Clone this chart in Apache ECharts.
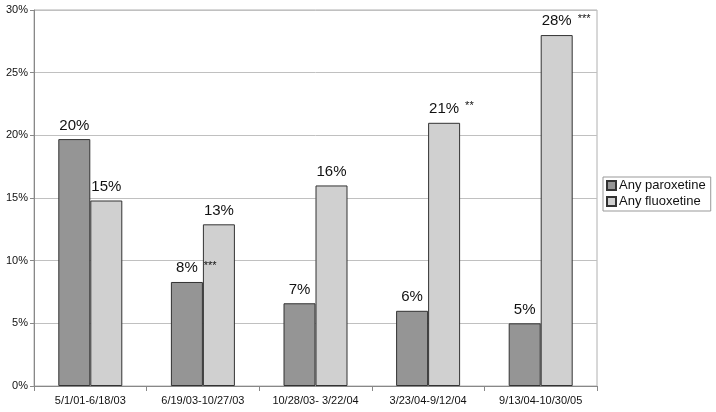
<!DOCTYPE html>
<html>
<head>
<meta charset="utf-8">
<script src="https://cdn.jsdelivr.net/npm/echarts@6/dist/echarts.min.js"></script>
<style>
  html, body { margin: 0; padding: 0; background: #fff; }
  #chart { width: 716px; height: 412px; }
</style>
</head>
<body>
<div id="chart"></div>
<script>
const periods = ["5/1/01-6/18/03", "6/19/03-10/27/03", "10/28/03- 3/22/04", "3/23/04-9/12/04", "9/13/04-10/30/05"];
const paroxetine = [19.7, 8.3, 6.6, 6.0, 5.0];
const fluoxetine = [14.8, 12.9, 16.0, 21.0, 28.0];
const paroxetineLabels = ["20%", "8%", "7%", "6%", "5%"];
const fluoxetineLabels = ["15%", "13%", "16%", "21%", "28%"];
const paroxetineStars = ["", "***", "", "", ""];
const fluoxetineStars = ["", "", "", "**", "***"];
const yTicks = [0, 5, 10, 15, 20, 25, 30];

const FONT = "Liberation Sans, Arial, sans-serif";

function makeLabel(labels, stars) {
  return function (p) {
    const s = stars[p.dataIndex];
    if (!s) return "{v|" + labels[p.dataIndex] + "}";
    // hidden copy on the left keeps the percentage centred over the bar
    return "{h|" + s + "}{v|" + labels[p.dataIndex] + "}{s|" + s + "}";
  };
}

const labelRich = {
  v: { fontSize: 15, color: "#111", fontFamily: FONT },
  s: { fontSize: 11, color: "#111", fontFamily: FONT, verticalAlign: "top", padding: [0, 0, 5, 6] },
  h: { fontSize: 11, color: "transparent", fontFamily: FONT, padding: [0, 6, 5, 0] }
};

const chart = echarts.init(document.getElementById("chart"));
chart.setOption({
  animation: false,
  textStyle: { fontFamily: FONT },
  grid: { left: 34, right: 119, top: 10, bottom: 26, show: true, borderColor: "#b0b0b0", borderWidth: 1 },
  legend: {
    orient: "vertical",
    left: 603,
    top: 177,
    icon: "rect",
    itemWidth: 9,
    itemHeight: 9,
    itemGap: 3,
    padding: [2, 5, 3, 3],
    borderColor: "#999",
    borderWidth: 1,
    textStyle: { fontSize: 13, color: "#111", fontFamily: FONT, padding: [0, 0, 0, -2] },
    data: ["Any paroxetine", "Any fluoxetine"]
  },
  xAxis: {
    type: "category",
    data: periods,
    axisLine: { lineStyle: { color: "#888" } },
    axisTick: { show: true, length: 5, lineStyle: { color: "#888" } },
    axisLabel: { fontSize: 11, color: "#111", margin: 9, interval: 0 }
  },
  yAxis: {
    type: "value",
    min: 0,
    max: 30,
    interval: 5,
    axisLine: { show: true, lineStyle: { color: "#888" } },
    axisTick: { show: true, length: 4, lineStyle: { color: "#888" } },
    axisLabel: { fontSize: 11, color: "#111", margin: 6, formatter: v => yTicks.includes(v) ? v + "%" : "" },
    splitLine: { lineStyle: { color: "#c0c0c0" } }
  },
  series: [
    {
      name: "Any paroxetine",
      type: "bar",
      data: paroxetine,
      barWidth: 32,
      barGap: "0%",
      itemStyle: { color: "#959595", borderColor: "#333", borderWidth: 1 },
      label: { show: true, position: "top", distance: 6, formatter: makeLabel(paroxetineLabels, paroxetineStars), rich: labelRich }
    },
    {
      name: "Any fluoxetine",
      type: "bar",
      data: fluoxetine,
      barWidth: 32,
      itemStyle: { color: "#d0d0d0", borderColor: "#333", borderWidth: 1 },
      label: { show: true, position: "top", distance: 6, formatter: makeLabel(fluoxetineLabels, fluoxetineStars), rich: labelRich }
    }
  ]
});
</script>
</body>
</html>
